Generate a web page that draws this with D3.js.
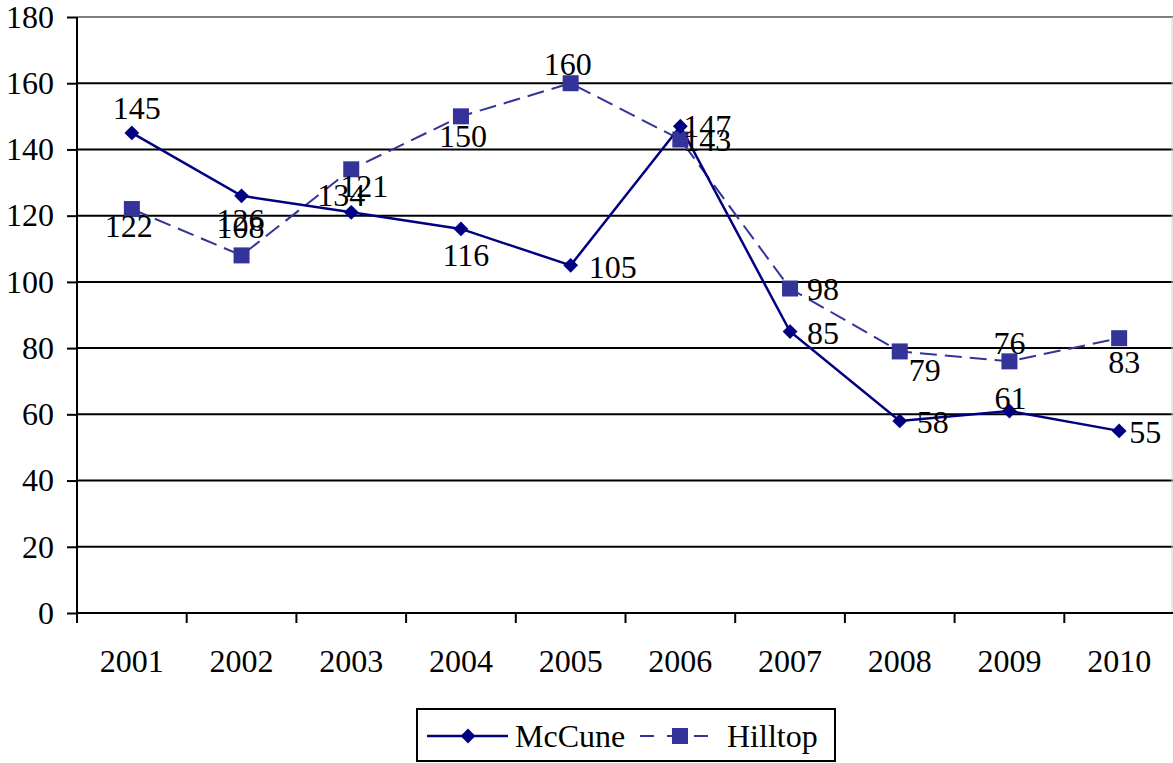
<!DOCTYPE html>
<html><head><meta charset="utf-8">
<script src="https://cdn.jsdelivr.net/npm/d3@7"></script>
<style>body{margin:0;background:#fff;} svg{display:block;} svg text{font-family:"Liberation Serif","Times New Roman",Times,serif;}</style>
</head><body>
<svg id="c" width="1173" height="763"></svg>
<script>
const years = ["2001","2002","2003","2004","2005","2006","2007","2008","2009","2010"];
const mccune = [145,126,121,116,105,147,85,58,61,55];
const hilltop = [122,108,134,150,160,143,98,79,76,83];
const yTicks = [0,20,40,60,80,100,120,140,160,180];
const seriesNames = ["McCune","Hilltop"];

// label placement (dx, dy from point) — styling only
const mcLab = [[5,-25],[-1,24],[13,-26],[5,26],[42,2],[27,0],[33,1],[33,1],[1,-13],[26,1]];
const hiLab = [[-3,17],[-1,-28],[-10,26],[2,20],[-3,-19],[27,0],[33,0],[25,19],[0,-18],[5,24]];

const svg = d3.select("#c");
const FS = 32;
const L = 77, R = 1174, T = 17, B = 613;
const x = d3.scaleBand().domain(years).range([L, R]);
const y = d3.scaleLinear().domain([0,180]).range([B, T]);
const cx = d => x(d) + x.bandwidth()/2;

// gridlines
svg.append("g").selectAll("line").data(yTicks.filter(v=>v>0)).join("line")
  .attr("x1", L).attr("x2", 1173).attr("y1", d=>y(d)).attr("y2", d=>y(d))
  .attr("stroke", d=> d===180 ? "#808080" : "#000").attr("stroke-width", 2);
// right border
svg.append("line").attr("x1",1172).attr("x2",1172).attr("y1",T).attr("y2",B).attr("stroke","#d0d0d0").attr("stroke-width",1);

// y axis
const ya = svg.append("g").attr("transform",`translate(${L},0)`)
  .call(d3.axisLeft(y).tickValues(yTicks).tickSize(10).tickPadding(13));
ya.attr("font-family",null).attr("font-size",null);
ya.select(".domain").attr("stroke","#000").attr("stroke-width",2).attr("d",`M0,${T}V${B}`);
ya.selectAll(".tick line").attr("stroke","#000").attr("stroke-width",2);
ya.selectAll("text").attr("font-size",FS).attr("fill","#000");

// x axis
svg.append("line").attr("x1",L).attr("x2",1173).attr("y1",B).attr("y2",B).attr("stroke","#000").attr("stroke-width",2);
const bounds = years.map(d=>x(d));
svg.append("g").selectAll("line").data(bounds).join("line")
  .attr("x1",d=>d).attr("x2",d=>d).attr("y1",B).attr("y2",B+10).attr("stroke","#000").attr("stroke-width",2);
svg.append("g").selectAll("text").data(years).join("text")
  .attr("x", d=>cx(d)).attr("y", 672).attr("text-anchor","middle")
  .attr("font-size",FS).text(d=>d);

const line = d3.line().x((d,i)=>cx(years[i])).y(d=>y(d));

// Hilltop
svg.append("path").datum(hilltop).attr("d",line).attr("fill","none")
  .attr("stroke","#333399").attr("stroke-width",2).attr("stroke-dasharray","17,8");
// McCune
svg.append("path").datum(mccune).attr("d",line).attr("fill","none")
  .attr("stroke","#000080").attr("stroke-width",2.5);

svg.append("g").selectAll("rect").data(hilltop).join("rect")
  .attr("x",(d,i)=>cx(years[i])-8).attr("y",d=>y(d)-8).attr("width",16).attr("height",16).attr("fill","#333399");
svg.append("g").selectAll("path").data(mccune).join("path")
  .attr("d", d3.symbol().type(d3.symbolSquare).size(110)())
  .attr("transform",(d,i)=>`translate(${cx(years[i])},${y(d)}) rotate(45)`)
  .attr("fill","#000080");

// labels
function labels(data, offs){
  svg.append("g").selectAll("text").data(data).join("text")
    .attr("x",(d,i)=>cx(years[i])+offs[i][0]).attr("y",(d,i)=>y(d)+offs[i][1])
    .attr("text-anchor","middle").attr("dominant-baseline","central")
    .attr("font-size",FS).attr("fill","#000").text(d=>d);
}
labels(mccune, mcLab);
labels(hilltop, hiLab);

// legend
const lg = svg.append("g");
lg.append("rect").attr("x",417).attr("y",709).attr("width",418).attr("height",52).attr("fill","#fff").attr("stroke","#000").attr("stroke-width",2);
const ly = 736;
lg.append("line").attr("x1",427).attr("x2",508).attr("y1",ly).attr("y2",ly).attr("stroke","#000080").attr("stroke-width",2.5);
lg.append("path").attr("d", d3.symbol().type(d3.symbolSquare).size(110)()).attr("transform",`translate(468,${ly}) rotate(45)`).attr("fill","#000080");
lg.append("text").attr("x",515).attr("y",ly).attr("dominant-baseline","central").attr("font-size",FS).text(seriesNames[0]);
lg.append("line").attr("x1",640).attr("x2",718).attr("y1",ly).attr("y2",ly).attr("stroke","#333399").attr("stroke-width",2).attr("stroke-dasharray","14,13");
lg.append("rect").attr("x",672).attr("y",ly-8).attr("width",16).attr("height",16).attr("fill","#333399");
lg.append("text").attr("x",727).attr("y",ly).attr("dominant-baseline","central").attr("font-size",FS).text(seriesNames[1]);
</script>
</body></html>
